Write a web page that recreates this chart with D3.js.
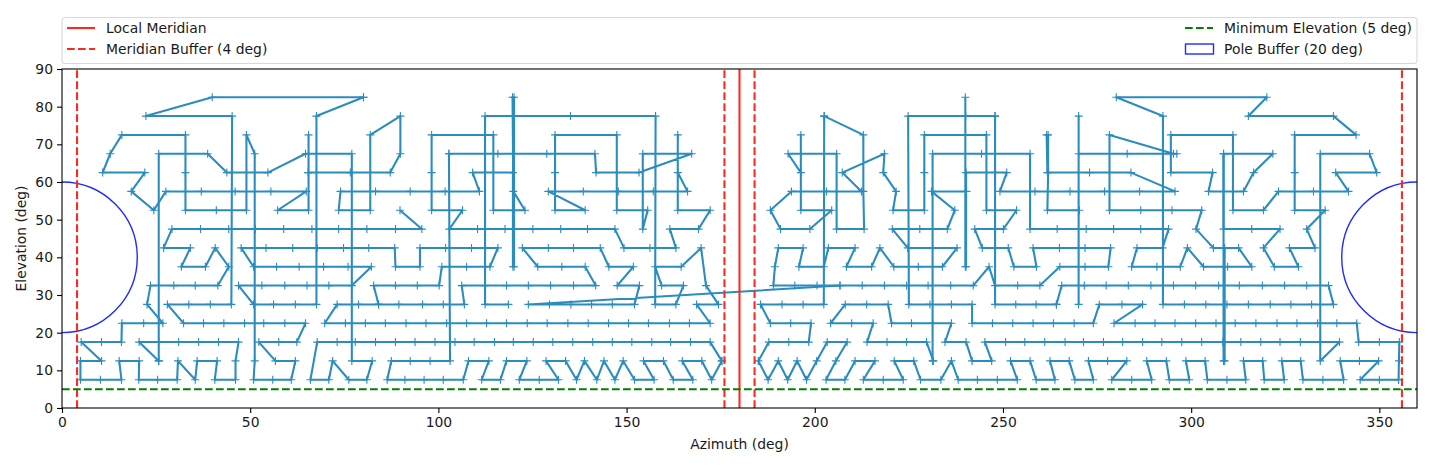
<!DOCTYPE html>
<html>
<head>
<meta charset="utf-8">
<script src="https://cdn.jsdelivr.net/npm/d3@7"></script>
<style>
  body { margin: 0; background: white; }
  text { font-family: "DejaVu Sans", sans-serif; font-size: 13.9px; fill: #1a1a1a; }
</style>
</head>
<body>
<div id="chart"></div>
<script>
// Scan track as [azimuth, elevation], one array per stretch
const trackTopLeft = [[80.1,82.5],[39.9,82.5],[22.3,77.5],[45.2,77.5],[45,27.5],[39.4,27.5],[33.7,27.5],[28,27.5],[32.3,22.5],[37.6,22.5],[43,22.5],[48.5,22.5],[53.6,22.5],[59.2,22.5],[64.7,22.5],[62.4,17.5],[57.6,17.5],[52.3,17.5],[56.7,12.5],[62,12.5],[60.9,7.5],[56,7.5],[50.9,7.5],[51.2,12.5],[51.2,67.5],[49,72.5],[49,52.5],[41,52.5],[32.8,52.5],[32.8,62.5],[32.8,72.5],[15.9,72.5],[12.8,67.5],[10.8,62.5],[22,62.5],[18.4,57.5],[24.4,52.5],[27.6,57.5],[37,57.5],[46,57.5],[55.5,57.5],[64.9,57.5],[57.3,52.5],[65.5,52.5],[65.5,62.5],[65.5,72.5]];
const trackBranch1 = [[25.7,12.5],[25.7,67.5],[38.7,67.5],[43.8,62.5],[54.7,62.5],[64.7,67.5],[77,67.5],[77,12.5],[82.4,12.5],[81,7.5],[76.2,7.5],[71.9,12.5],[70.9,7.5],[66,7.5],[67.8,17.5],[73.1,17.5],[77.9,17.5],[83.3,17.5],[88.6,17.5],[93.8,17.5],[99.1,17.5],[104.4,17.5],[109.5,17.5],[114.9,17.5],[119.9,17.5],[125.2,17.5],[130.4,17.5],[135.7,17.5],[141,17.5],[146.2,17.5],[151.4,17.5],[156.7,17.5],[161.7,17.5],[167,17.5],[172.2,17.5],[175.3,12.5]];
const trackZigzagLeft = [[175.3,12.5],[172.6,7.5],[170,12.5],[164.8,12.5],[167.6,7.5],[162.4,7.5],[159.8,12.5],[154.5,12.5],[157.3,7.5],[152.1,7.5],[149.1,12.5],[146.9,7.5],[144,12.5],[142.1,7.5],[138.8,12.5],[136.7,7.5],[133.8,12.5],[128.6,12.5],[131.9,7.5],[126.8,7.5],[121.5,7.5],[123.5,12.5],[118.1,12.5],[116.5,7.5],[111.5,7.5],[113.4,12.5],[108,12.5],[106.6,7.5],[101.3,7.5],[96.2,7.5],[91.1,7.5],[86.4,7.5],[87.5,12.5],[92.5,12.5],[97.8,12.5],[103.1,12.5],[102.8,67.5]];
const trackMidUpper = [[102.8,67.5],[115.8,67.5],[128.8,67.5],[141.6,67.5],[141.9,62.5],[153.3,62.5],[167.3,67.5],[154.3,67.5],[154.3,47.5],[155.6,52.5],[147.4,52.5],[147.4,72.5],[131,72.5],[131,62.5],[131,52.5],[139,52.5],[129.2,57.5],[138.5,57.5],[147.8,57.5],[157.1,57.5],[166.2,57.5],[163.6,62.5],[163.6,72.5],[163.6,52.5],[172.2,52.5],[169.1,47.5],[161.5,47.5],[163.1,42.5],[156.2,42.5],[149.3,42.5],[146.9,47.5],[139.6,47.5],[132.5,47.5],[125.1,47.5],[117.7,47.5],[110.4,47.5],[102.9,47.5],[106.4,52.5],[98.2,52.5],[98.2,62.5],[98.2,72.5],[114.6,72.5],[114.6,52.5],[123,52.5],[119.9,57.5],[119.7,82.5],[120.1,82.5],[120.1,37.5],[119.8,37.5],[119.8,62.5],[109.1,62.5],[110.9,57.5],[101.8,57.5],[92.5,57.5],[83.3,57.5],[74,57.5],[73.5,52.5],[81.9,52.5],[81.9,72.5],[89.9,77.5],[89.9,67.5],[87.2,62.5],[76.6,62.5],[65.4,62.5]];
const trackFarLeft = [[89.8,52.5],[95.6,47.5],[88.6,47.5],[81,47.5],[73.5,47.5],[66.4,47.5],[58.9,47.5],[51.4,47.5],[44.3,47.5],[36.8,47.5],[29.2,47.5],[27,42.5],[34.1,42.5],[31.7,37.5],[38.1,37.5],[40.7,42.5],[44.3,37.5],[41.4,32.5],[35.4,32.5],[29.7,32.5],[23.5,32.5],[22.6,27.5],[26.8,22.5],[21.7,22.5],[15.9,22.5],[15.8,17.5],[10.5,17.5],[5.1,17.5],[10.5,12.5],[4.9,12.5],[4.9,7.5],[10.2,7.5],[15.8,7.5],[15.2,12.5],[20.5,12.5],[20.4,7.5],[25.4,7.5],[30.6,7.5],[30.8,12.5],[35.4,7.5],[35.9,12.5],[41.2,12.5],[40.6,7.5],[46.1,7.5],[46.1,12.5],[46.9,17.5],[41.6,17.5],[36.3,17.5],[31,17.5],[25.7,17.5],[20.5,17.5],[25.7,12.5]];
const trackVerticalA = [[80.1,82.5],[67.6,77.5],[67.6,27.5],[62,27.5],[56.2,27.5],[50.9,27.5],[46.9,32.5],[53.1,32.5],[59.2,32.5],[65.1,32.5],[70.9,32.5],[77,32.5],[82.2,37.5],[76,37.5],[69.5,37.5],[63,37.5],[57,37.5],[50.9,37.5],[47.6,42.5],[54.2,42.5],[61.3,42.5],[67.8,42.5],[74.8,42.5],[81.5,42.5],[88.4,42.5],[88.6,37.5],[95.1,37.5],[95.1,42.5],[101.9,42.5],[108.8,42.5],[115.8,42.5],[113.7,37.5],[107.5,37.5],[100.9,37.5],[100.2,32.5],[94.4,32.5],[88.6,32.5],[82.8,32.5],[84.1,27.5],[89.5,27.5],[95.8,27.5],[101.3,27.5],[106.9,27.5],[106.2,32.5],[112.4,32.5],[118.1,32.5],[123.9,32.5],[129.8,32.5],[135.9,32.5],[141.8,32.5],[139,37.5],[132.8,37.5],[126.4,37.5],[122.3,42.5],[129.2,42.5],[135.9,42.5],[143,42.5],[145.3,37.5],[151.8,37.5],[147.5,32.5],[153.4,32.5],[152.1,27.5],[146.2,27.5],[140.7,27.5],[135.2,27.5],[129.5,27.5],[123.9,27.5],[206.7,32.5]];
const trackMidRight = [[118.6,27.5],[112.4,27.5],[112.4,77.5],[135.1,77.5],[157.7,77.5],[157.6,27.5],[163.1,27.5],[165.1,32.5],[159.3,32.5],[157.6,37.5],[164.5,37.5],[169.8,42.5],[171.1,32.5],[174.4,27.5],[168.6,27.5],[172.2,22.5],[166.7,22.5],[161.4,22.5],[155.8,22.5],[150.5,22.5],[145.2,22.5],[139.8,22.5],[134.4,22.5],[128.9,22.5],[123.6,22.5],[118.1,22.5],[112.8,22.5],[107.5,22.5],[102.2,22.5],[96.7,22.5],[91.4,22.5],[85.9,22.5],[80.6,22.5],[75.3,22.5],[69.8,22.5],[73.1,27.5],[78.8,27.5],[84.1,27.5]];
const trackEastA = [[202.5,77.5],[212.9,72.5],[212.9,57.5],[213.1,47.5],[205.8,47.5],[205.8,67.5],[192.9,67.5],[196.3,62.5],[196.3,72.5],[196.3,52.5],[204.5,52.5],[198.7,47.5],[190.9,47.5],[188.2,52.5],[193.8,57.5],[203.1,57.5],[212.4,57.5],[207.3,62.5],[218.5,67.5],[218.2,62.5],[221.6,57.5],[220.8,52.5],[229.1,52.5],[229.1,62.5],[229.1,72.5],[245.6,72.5],[245.6,52.5],[253.6,52.5],[250.1,47.5],[242.5,47.5],[244.5,42.5],[251.4,42.5],[252.9,37.5],[258.9,37.5],[258,42.5],[265,42.5],[271.8,42.5],[278.6,42.5],[278,37.5],[271.8,37.5],[265.1,37.5],[259.8,32.5],[253.9,32.5],[247.9,32.5],[246.3,37.5],[242.1,32.5],[236.1,32.5],[230.1,32.5],[224.4,32.5],[218.5,32.5],[212.6,32.5],[206.7,32.5],[200.6,32.5],[194.7,32.5],[189,32.5],[189.4,37.5],[190.3,42.5],[196.9,42.5],[195.8,37.5],[202.4,37.5],[203.6,42.5],[210.7,42.5],[208.4,37.5],[215.1,37.5],[217.3,42.5],[221,37.5],[227.5,37.5],[233.9,37.5],[237.8,42.5],[231.3,42.5],[224.7,42.5],[220.6,47.5],[227.9,47.5],[235.2,47.5],[237.2,52.5],[231,57.5],[240.3,57.5]];
const trackEastB = [[231.3,12.5],[231.3,67.5],[244.3,67.5],[257.2,67.5],[257.2,47.5],[264.4,47.5],[272.1,47.5],[279.4,47.5],[286.6,47.5],[294,47.5],[292.4,42.5],[285.6,42.5],[284.2,37.5],[290.9,37.5],[297.1,37.5],[299,42.5],[303.3,37.5],[309.7,37.5],[316.1,37.5],[312.6,42.5],[305.9,42.5],[301.3,47.5],[302.8,52.5],[294.9,52.5],[286.6,52.5],[278.3,52.5],[278.3,72.5],[295.3,67.5],[296.2,67.5],[283,67.5],[270.1,67.5],[270.1,77.5],[270.1,27.5]];
const trackThickVert = [[240,82.5],[240,37.5],[240.2,37.5],[240.2,62.5],[251,62.5],[249.2,57.5],[258.5,57.5],[267.8,57.5],[277,57.5],[286.3,57.5],[295.7,57.5],[284,62.5],[273,62.5],[261.8,62.5],[261.6,72.5],[262,72.5],[262,62.5],[261.8,52.5],[270.3,52.5]];
const trackEastC = [[264.2,27.5],[265.6,32.5],[271.6,32.5],[277.4,32.5],[283.3,32.5],[289.3,32.5],[295.3,32.5],[301.2,32.5],[307.3,32.5],[312.8,32.5],[318.9,32.5],[324.8,32.5],[330.7,32.5],[336.5,32.5],[337.8,27.5],[332,27.5],[326.5,27.5],[321,27.5],[315.2,27.5],[309.5,27.5],[303.9,27.5],[298.2,27.5],[292.5,27.5],[292.5,77.5],[280.1,82.5],[320.1,82.5],[315.2,77.5],[337.8,77.5],[343.8,72.5],[327.5,72.5],[327.5,62.5],[327.5,52.5],[335.6,52.5],[330.7,47.5],[332.9,42.5],[326.1,42.5],[328.5,37.5],[322.1,37.5],[319.2,42.5],[323.6,47.5],[316.1,47.5],[308.6,47.5],[308.6,67.5],[321.7,67.5],[316.6,62.5],[313.9,57.5],[304.6,57.5],[305.7,62.5],[294.6,62.5],[294.6,72.5],[311.1,72.5],[311.1,52.5],[319.2,52.5],[323.2,57.5],[332.5,57.5],[341.8,57.5],[338.4,62.5],[349.3,62.5],[347.4,67.5],[334.3,67.5],[334.3,12.5],[339.4,17.5],[334.3,17.5],[329,17.5],[323.6,17.5],[318.5,17.5],[313.2,17.5],[308.4,17.5],[302.8,17.5],[297.5,17.5],[292.2,17.5],[287.1,17.5],[281.8,17.5],[276.7,17.5],[271.4,17.5],[266.5,17.5],[261.1,17.5],[255.8,17.5],[250.7,17.5],[245.2,17.5],[247,12.5],[241.8,12.5],[240.2,17.5],[234.6,17.5],[236.3,22.5],[231.3,22.5],[225.7,22.5],[220.4,22.5],[219.5,27.5],[213.8,27.5],[208.1,27.5],[204.2,22.5],[209.8,22.5],[215.5,22.5],[213.9,17.5],[219.2,17.5],[224.4,17.5],[229.7,17.5],[231.5,12.5]];
const trackRowTwentyTwo = [[247.9,77.5],[240.1,77.5],[224.8,77.5],[225,27.5],[230.6,27.5],[236.3,27.5],[241.8,27.5],[241.8,22.5],[247.2,22.5],[252.6,22.5],[258,22.5],[263.4,22.5],[268.9,22.5],[274,22.5],[275.6,27.5],[281.6,27.5],[287.1,27.5],[279.5,22.5],[285.1,22.5],[290.4,22.5],[295.7,22.5],[301.2,22.5],[306.6,22.5],[311.7,22.5],[317.2,22.5],[322.8,22.5],[328.1,22.5],[333.6,22.5],[338.7,22.5],[344,22.5],[344.5,17.5],[350,17.5],[355.3,17.5],[355.2,12.5],[355.1,7.5]];
const trackRowSevenEast = [[355.1,7.5],[350,7.5],[344.9,7.5],[349.8,12.5],[344.7,12.5],[339.6,12.5],[340.5,7.5],[335,7.5],[329.7,7.5],[329.1,12.5],[324.1,12.5],[324.7,7.5],[319.4,7.5],[319,12.5],[313.9,12.5],[314.5,7.5],[309.5,7.5],[304.3,7.5],[303.7,12.5],[298.6,12.5],[299.5,7.5],[294.2,7.5],[293.4,12.5],[288.2,12.5],[289.5,7.5],[284.2,7.5],[278.9,7.5],[282.9,12.5],[277.8,12.5],[272.7,12.5],[274,7.5],[269.1,7.5],[267.6,12.5],[262.5,12.5],[263.8,7.5],[258.8,7.5],[257.2,12.5],[252,12.5],[253.8,7.5],[248.5,7.5],[243.2,7.5],[238.1,7.5],[236.3,12.5],[233.5,7.5],[228.1,7.5],[226.3,12.5],[221.1,12.5],[223.5,7.5],[218.2,7.5],[212.9,7.5],[216,12.5],[210.7,12.5],[208,7.5],[203,7.5],[205.6,12.5],[208.6,17.5],[203.3,17.5],[200.5,12.5],[197.8,7.5],[195.3,12.5],[192.8,7.5],[190.3,12.5],[187.6,7.5],[185,12.5],[187.8,17.5],[193.1,17.5],[198.4,17.5],[199,22.5],[193.6,22.5],[188.2,22.5],[185.6,27.5],[191.3,27.5],[196.9,27.5],[202.4,27.5],[202.5,77.5]];
const trackCloser = [[247.9,77.5],[247.9,27.5],[253.4,27.5],[258.8,27.5],[264.2,27.5]];
const trackPole = [[308.6,67.5],[308.6,12.5],[308.9,12.5],[308.9,42.5]];

const tracks = [trackTopLeft, trackBranch1, trackZigzagLeft, trackMidUpper, trackFarLeft, trackVerticalA, trackMidRight,
    trackEastA, trackEastB, trackThickVert, trackEastC, trackRowTwentyTwo, trackRowSevenEast, trackCloser, trackPole];

// Reference lines and axis ticks
const meridian = 180;
const meridianBuffers = [4, 176, 184, 356];
const minElevation = 5;
const poleCentres = [[0, 40], [360, 40]];
const poleRadius = 20;
const xTicks = [0, 50, 100, 150, 200, 250, 300, 350];
const yTicks = [0, 10, 20, 30, 40, 50, 60, 70, 80, 90];

// Chart dimensions
const width = 1440;
const height = 472;
const margin = { top: 69, right: 23, bottom: 64, left: 62 };

const trackColor = "#2b8cbe";
const red = "#ff2a1f";
const blue = "#1f2bff";

const svg = d3.select("#chart").append("svg")
    .attr("width", width)
    .attr("height", height)
    .style("display", "block");

const x = d3.scaleLinear().domain([0, 360]).range([margin.left, width - margin.right]);
const y = d3.scaleLinear().domain([0, 90]).range([height - margin.bottom, margin.top]);

svg.append("clipPath").attr("id", "plot-clip").append("rect")
    .attr("x", margin.left).attr("y", margin.top)
    .attr("width", x(360) - x(0)).attr("height", y(0) - y(90));

const plot = svg.append("g").attr("clip-path", "url(#plot-clip)");

// Pole buffers, half circles cut by the frame
plot.selectAll(".pole")
    .data(poleCentres)
    .enter().append("ellipse")
    .attr("class", "pole")
    .attr("cx", d => x(d[0]))
    .attr("cy", d => y(d[1]))
    .attr("rx", x(poleRadius) - x(0))
    .attr("ry", y(0) - y(poleRadius))
    .attr("fill", "none")
    .attr("stroke", blue)
    .attr("stroke-width", 1.4);

// Track lines
const line = d3.line().x(d => x(d[0])).y(d => y(d[1]));
plot.selectAll(".track")
    .data(tracks)
    .enter().append("path")
    .attr("class", "track")
    .attr("d", line)
    .attr("fill", "none")
    .attr("stroke", trackColor)
    .attr("stroke-width", 2.08)
    .attr("stroke-linejoin", "round");

// + marks at every point
plot.selectAll(".mark")
    .data(tracks.flat())
    .enter().append("path")
    .attr("class", "mark")
    .attr("d", "M-4,0H4M0,-4V4")
    .attr("transform", d => `translate(${x(d[0])},${y(d[1])})`)
    .attr("stroke", trackColor)
    .attr("stroke-width", 1.1);

// Meridian and elevation limits
plot.append("line")
    .attr("x1", x(meridian)).attr("x2", x(meridian))
    .attr("y1", y(0)).attr("y2", y(90))
    .attr("stroke", red).attr("stroke-width", 2.08);

plot.selectAll(".buffer")
    .data(meridianBuffers)
    .enter().append("line")
    .attr("class", "buffer")
    .attr("x1", d => x(d)).attr("x2", d => x(d))
    .attr("y1", y(0)).attr("y2", y(90))
    .attr("stroke", red).attr("stroke-width", 2.08)
    .attr("stroke-dasharray", "7.7,3.3");

plot.append("line")
    .attr("x1", x(0)).attr("x2", x(360))
    .attr("y1", y(minElevation)).attr("y2", y(minElevation))
    .attr("stroke", "#008000").attr("stroke-width", 2.08)
    .attr("stroke-dasharray", "7.7,3.3");

// Axes
const xAxis = svg.append("g")
    .attr("transform", `translate(0,${y(0)})`)
    .call(d3.axisBottom(x).tickValues(xTicks).tickSize(5).tickPadding(4).tickSizeOuter(0));
const yAxis = svg.append("g")
    .attr("transform", `translate(${x(0)},0)`)
    .call(d3.axisLeft(y).tickValues(yTicks).tickSize(5).tickPadding(4).tickSizeOuter(0));

[xAxis, yAxis].forEach(a => {
    a.attr("font-family", null).attr("font-size", null);
    a.selectAll("line").attr("stroke", "black").attr("stroke-width", 1.1);
    a.select(".domain").remove();
});

svg.append("rect")
    .attr("x", x(0)).attr("y", y(90))
    .attr("width", x(360) - x(0)).attr("height", y(0) - y(90))
    .attr("fill", "none")
    .attr("stroke", "black")
    .attr("stroke-width", 1.1);

svg.append("text")
    .attr("x", (x(0) + x(360)) / 2)
    .attr("y", 449)
    .attr("text-anchor", "middle")
    .text("Azimuth (deg)");

svg.append("text")
    .attr("transform", `translate(26,${(y(0) + y(90)) / 2}) rotate(-90)`)
    .attr("text-anchor", "middle")
    .text("Elevation (deg)");

// Legend, two columns spread over the axes width
const legend = svg.append("g");
legend.append("rect")
    .attr("x", 62).attr("y", 17.5)
    .attr("width", 1355).attr("height", 46)
    .attr("rx", 3)
    .attr("fill", "white")
    .attr("stroke", "#d9d9d9")
    .attr("stroke-width", 1.1);

const legendRows = [28, 49];
const legendLine = (x0, yy, color, dash) => legend.append("line")
    .attr("x1", x0).attr("x2", x0 + 28)
    .attr("y1", yy).attr("y2", yy)
    .attr("stroke", color).attr("stroke-width", 2.08)
    .attr("stroke-dasharray", dash);
const legendText = (x0, yy, label) => legend.append("text")
    .attr("x", x0).attr("y", yy + 5)
    .text(label);

legendLine(67, legendRows[0], red, null);
legendText(106, legendRows[0], "Local Meridian");
legendLine(67, legendRows[1], red, "7.7,3.3");
legendText(106, legendRows[1], "Meridian Buffer (4 deg)");
legendLine(1185, legendRows[0], "#008000", "7.7,3.3");
legendText(1224, legendRows[0], "Minimum Elevation (5 deg)");
legend.append("rect")
    .attr("x", 1185.5).attr("y", legendRows[1] - 5)
    .attr("width", 28).attr("height", 10)
    .attr("fill", "white")
    .attr("stroke", blue)
    .attr("stroke-width", 1.4);
legendText(1224, legendRows[1], "Pole Buffer (20 deg)");
</script>
</body>
</html>
